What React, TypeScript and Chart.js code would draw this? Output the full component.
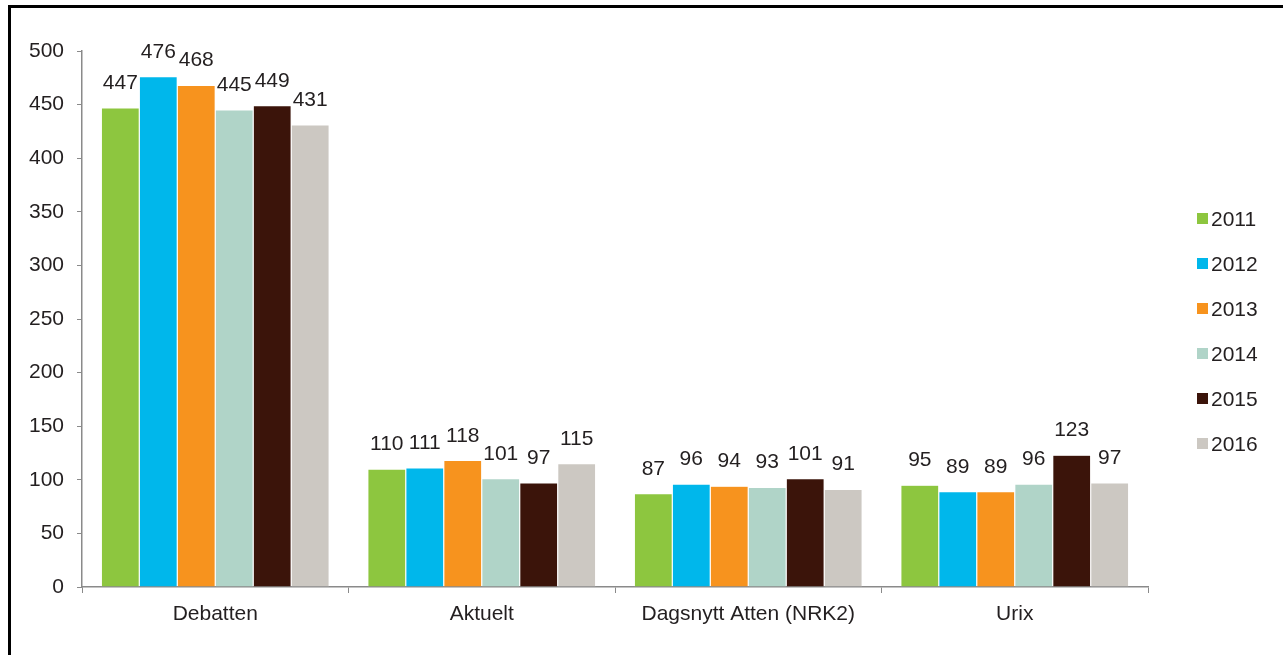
import React, { useEffect, useRef } from "react";
import { Chart, registerables } from "chart.js";

Chart.register(...registerables);

const categories = ["Debatten", "Aktuelt", "Dagsnytt Atten (NRK2)", "Urix"];
const years = ["2011", "2012", "2013", "2014", "2015", "2016"];
const values2011 = [447, 110, 87, 95];
const values2012 = [476, 111, 96, 89];
const values2013 = [468, 118, 94, 89];
const values2014 = [445, 101, 93, 96];
const values2015 = [449, 97, 101, 123];
const values2016 = [431, 115, 91, 97];
const seriesValues = [values2011, values2012, values2013, values2014, values2015, values2016];
const colors = ["#8DC63F", "#00B7EB", "#F7931E", "#B0D4C8", "#3B140A", "#CCC8C2"];
const yTicks = [0, 50, 100, 150, 200, 250, 300, 350, 400, 450, 500];

const FONT = "'Liberation Sans', Arial, sans-serif";
const FONT_SIZE = 21;
const TEXT = "#231F20";
const AXIS = "#8A8A8A";

// Black frame along the top and left edges
const framePlugin = {
  id: "frame",
  beforeDraw(chart: any) {
    const ctx = chart.ctx;
    ctx.save();
    ctx.fillStyle = "#ffffff";
    ctx.fillRect(0, 0, chart.width, chart.height);
    ctx.fillStyle = "#000000";
    ctx.fillRect(8, 5, 3, chart.height - 5);
    ctx.fillRect(8, 5, chart.width - 8, 3);
    ctx.restore();
  },
};

// Value labels above each bar
const valueLabelPlugin = {
  id: "valueLabels",
  afterDatasetsDraw(chart: any) {
    const ctx = chart.ctx;
    ctx.save();
    ctx.font = `${FONT_SIZE}px ${FONT}`;
    ctx.fillStyle = TEXT;
    ctx.textAlign = "center";
    ctx.textBaseline = "alphabetic";
    chart.data.datasets.forEach((ds: any, i: number) => {
      const meta = chart.getDatasetMeta(i);
      meta.data.forEach((el: any, j: number) => {
        ctx.fillText(String(ds.data[j]), el.x, el.y - 19);
      });
    });
    ctx.restore();
  },
};

// Vertical legend to the right of the plot
const sideLegendPlugin = {
  id: "sideLegend",
  afterDraw(chart: any) {
    const ctx = chart.ctx;
    const area = chart.chartArea;
    ctx.save();
    ctx.font = `${FONT_SIZE}px ${FONT}`;
    ctx.textBaseline = "middle";
    ctx.textAlign = "left";
    chart.data.datasets.forEach((ds: any, i: number) => {
      const cy = area.top + 168 + i * 45;
      const x = area.right + 49;
      ctx.fillStyle = ds.backgroundColor;
      ctx.fillRect(x, cy - 6, 11, 11);
      ctx.fillStyle = TEXT;
      ctx.fillText(ds.label, x + 14, cy + 1);
    });
    ctx.restore();
  },
};

export default function App() {
  const canvasRef = useRef<HTMLCanvasElement | null>(null);

  useEffect(() => {
    if (!canvasRef.current) return;
    const chart = new Chart(canvasRef.current, {
      type: "bar",
      data: {
        labels: categories,
        datasets: years.map((y, i) => ({
          label: y,
          data: seriesValues[i],
          backgroundColor: colors[i],
          borderColor: "rgba(255,255,255,0.45)",
          borderWidth: 0.6,
          categoryPercentage: 0.855,
          barPercentage: 1,
        })),
      },
      options: {
        responsive: false,
        animation: false,
        layout: { padding: { top: 51, right: 135, left: 0, bottom: 0 } },
        plugins: {
          legend: { display: false },
          tooltip: { enabled: false },
        },
        scales: {
          x: {
            grid: {
              display: true,
              drawOnChartArea: false,
              offset: true,
              tickLength: 6,
              color: AXIS,
            },
            border: { display: true, color: AXIS, width: 1.5 },
            ticks: { color: TEXT, font: { family: FONT, size: FONT_SIZE }, padding: 9 },
            afterFit(scale: any) {
              scale.height = 68;
            },
          },
          y: {
            min: 0,
            max: 500,
            grid: {
              display: true,
              drawOnChartArea: false,
              tickLength: 5,
              color: AXIS,
            },
            border: { display: true, color: AXIS, width: 1.5 },
            afterBuildTicks(scale: any) {
              scale.ticks = yTicks.map((v) => ({ value: v }));
            },
            ticks: { color: TEXT, font: { family: FONT, size: FONT_SIZE }, padding: 13 },
            afterFit(scale: any) {
              scale.width = 82;
            },
          },
        },
      },
      plugins: [framePlugin, valueLabelPlugin, sideLegendPlugin],
    });
    return () => chart.destroy();
  }, []);

  return (
    <div style={{ position: "fixed", left: 0, top: 0, width: 1283, height: 655, background: "#fff" }}>
      <canvas ref={canvasRef} width={1283} height={655} style={{ display: "block" }} />
    </div>
  );
}
